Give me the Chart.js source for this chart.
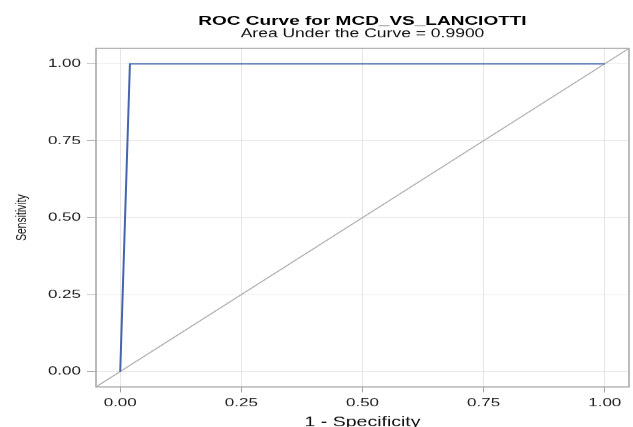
<!DOCTYPE html>
<html><head><meta charset="utf-8">
<script src="https://cdn.jsdelivr.net/npm/chart.js@4.4.0/dist/chart.umd.min.js"></script>
<style>
html,body{margin:0;padding:0;overflow:hidden;background:#fff;width:633px;height:427px;}
#wrap{width:633px;height:640px;transform:scaleY(0.6897);transform-origin:0 0;}
canvas{display:block;}
</style></head><body>
<div id="wrap"><canvas id="c" width="633" height="640"></canvas></div>
<script>
const chartTitle = 'ROC Curve for MCD_VS_LANCIOTTI';
const chartSubtitle = 'Area Under the Curve = 0.9900';
const xAxisTitle = '1 - Specificity';
const yAxisTitle = 'Sensitivity';
const fpr = [0, 0.02, 1];      // 1 - Specificity
const tpr = [0, 1, 1];         // Sensitivity
const refX = [-0.05, 1.05];    // chance diagonal
const refY = [-0.05, 1.05];
const xTicks = [0, 0.25, 0.5, 0.75, 1];
const yTicks = [0, 0.25, 0.5, 0.75, 1];
const axisMin = -0.05, axisMax = 1.05;

const FONT = "'Liberation Sans', Arial, sans-serif";

const frame = {
  id: 'frame',
  beforeDatasetsDraw(chart) {
    const {ctx, chartArea: a} = chart;
    ctx.save();
    ctx.strokeStyle = '#a4a4a4';
    ctx.lineWidth = 1.5;
    ctx.strokeRect(a.left, a.top, a.right - a.left, a.bottom - a.top);
    ctx.restore();
  }
};

const fmt = v => Number(v).toFixed(2);

new Chart(document.getElementById('c'), {
  type: 'line',
  data: {
    datasets: [
      {
        label: 'Chance',
        data: refX.map((x, i) => ({x, y: refY[i]})),
        borderColor: '#a9a9a9',
        borderWidth: 1.3,
        pointRadius: 0,
        fill: false,
        order: 2
      },
      {
        label: 'ROC',
        data: fpr.map((x, i) => ({x, y: tpr[i]})),
        borderColor: '#4566ad',
        borderWidth: 2,
        pointRadius: 0,
        tension: 0,
        fill: false,
        order: 1
      }
    ]
  },
  options: {
    responsive: false,
    animation: false,
    devicePixelRatio: 1,
    layout: {padding: {left: 0, right: 4, top: 0, bottom: 0}},
    plugins: {
      legend: {display: false},
      tooltip: {enabled: false},
      title: {
        display: true, text: chartTitle, fullSize: false, color: '#000',
        font: {family: FONT, size: 19, weight: 'bold', lineHeight: 1},
        padding: {top: 20.8, bottom: 1}
      },
      subtitle: {
        display: true, text: chartSubtitle, fullSize: false, color: '#111',
        font: {family: FONT, size: 17.5, weight: 'normal', lineHeight: 1},
        padding: {top: 0, bottom: 11.8}
      }
    },
    scales: {
      x: {
        type: 'linear', min: axisMin, max: axisMax,
        afterFit: s => { s.height = 79; },
        afterBuildTicks: s => { s.ticks = xTicks.map(v => ({value: v})); },
        grid: {color: '#e6e6e6', lineWidth: 1, drawTicks: true, tickLength: 8, tickColor: '#a4a4a4'},
        border: {display: false},
        ticks: {callback: fmt, color: '#222', font: {family: FONT, size: 17}, padding: 5, maxRotation: 0, autoSkip: false},
        title: {display: true, text: xAxisTitle, color: '#111', font: {family: FONT, size: 19.5, lineHeight: 1.2}, padding: {top: 0, bottom: 15.8}}
      },
      y: {
        type: 'linear', min: axisMin, max: axisMax,
        afterFit: s => { s.width = 96; },
        afterBuildTicks: s => { s.ticks = yTicks.map(v => ({value: v})); },
        grid: {color: '#e6e6e6', lineWidth: 1, drawTicks: true, tickLength: 9, tickColor: '#a4a4a4'},
        border: {display: false},
        ticks: {callback: fmt, color: '#222', font: {family: FONT, size: 17}, padding: 6, autoSkip: false},
        title: {display: true, text: yAxisTitle, color: '#111', font: {family: FONT, size: 15, lineHeight: 1.2}, padding: {top: 13, bottom: 0}}
      }
    }
  },
  plugins: [frame]
});
</script>
</body></html>
